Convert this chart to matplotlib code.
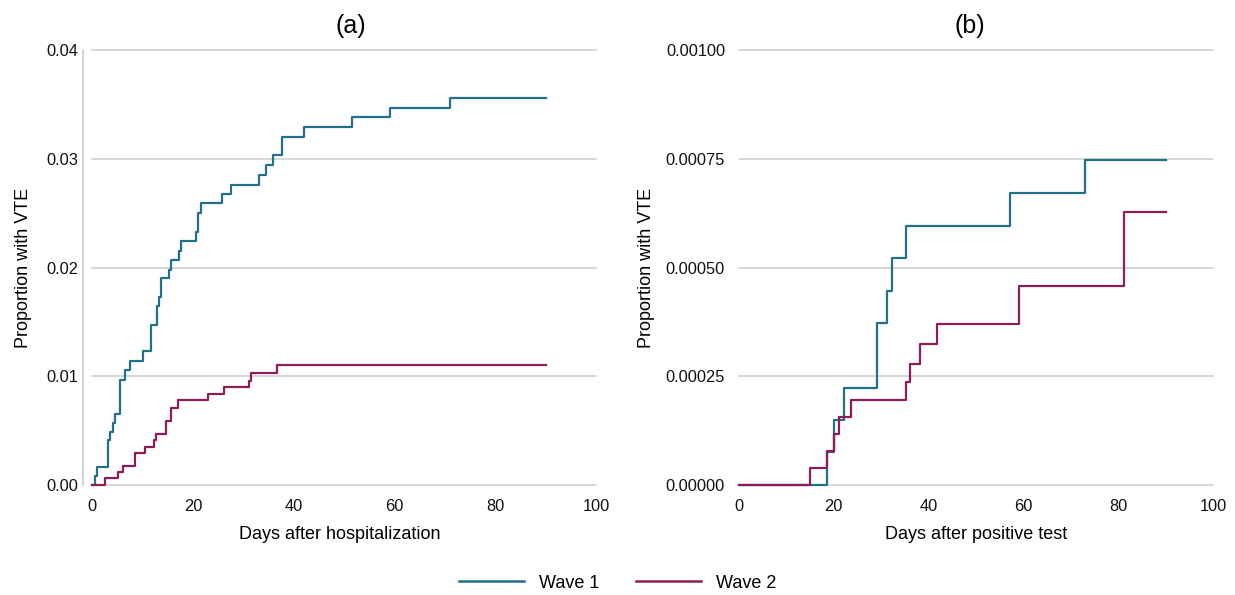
import matplotlib
matplotlib.use("Agg")
import matplotlib.pyplot as plt
from matplotlib.lines import Line2D

plt.rcParams['font.family'] = ['Liberation Sans', 'DejaVu Sans']

# Panel (a): days after hospitalization
a_w1_days = [0, 0.6, 1.05, 3.1, 3.6, 4.1, 4.6, 5.6, 6.6, 7.6, 10.2, 11.6, 12.8, 13.2, 13.6,
             15.2, 15.6, 17.2, 17.6, 20.6, 21.1, 21.6, 25.7, 27.6, 33.1, 34.5, 36.0, 37.6,
             42.1, 51.6, 59.1, 71.0, 90]
a_w1_vals = [0, 0.00086, 0.0017, 0.0041, 0.0049, 0.0057, 0.0065, 0.0097, 0.0106, 0.0114,
             0.0123, 0.0147, 0.0165, 0.0173, 0.0190, 0.0198, 0.0207, 0.0215, 0.0224, 0.0233,
             0.0250, 0.0259, 0.0268, 0.0276, 0.0285, 0.0294, 0.0303, 0.0320, 0.0329, 0.0338,
             0.0347, 0.0356, 0.0356]
a_w2_days = [0, 2.6, 5.1, 6.2, 8.6, 10.6, 12.2, 12.7, 14.7, 15.6, 17.1, 23.1, 26.1, 31.2,
             31.6, 36.6, 90]
a_w2_vals = [0, 0.00064, 0.00117, 0.00175, 0.0029, 0.0035, 0.0041, 0.0047, 0.0059, 0.0071,
             0.0078, 0.0084, 0.0090, 0.0096, 0.0103, 0.0110, 0.0110]

# Panel (b): days after positive test
b_w1_days = [0, 18.6, 20.1, 22.2, 29.1, 31.2, 32.2, 35.2, 57.1, 73.1, 90]
b_w1_vals = [0, 0.000075, 0.000149, 0.000223, 0.000372, 0.000447, 0.000522, 0.000596,
             0.000672, 0.000747, 0.000747]
b_w2_days = [0, 15.0, 18.5, 20.1, 21.1, 23.6, 35.2, 36.1, 38.1, 41.7, 59.1, 81.2, 90]
b_w2_vals = [0, 0.000039, 0.000079, 0.000117, 0.000156, 0.000196, 0.000236, 0.000279,
             0.000323, 0.00037, 0.000457, 0.000628, 0.000628]

a_yticks = [0.00, 0.01, 0.02, 0.03, 0.04]
a_ylabels = ["0.00", "0.01", "0.02", "0.03", "0.04"]
b_yticks = [0.0, 0.00025, 0.0005, 0.00075, 0.001]
b_ylabels = ["0.00000", "0.00025", "0.00050", "0.00075", "0.00100"]
xticks = [0, 20, 40, 60, 80, 100]

C1 = "#22708a"
C2 = "#8c1d58"
GRID = "#cccccc"

fig = plt.figure(figsize=(12.35, 5.95), dpi=100)
W, H = 1235, 595

def make_ax(left_px, right_px):
    return fig.add_axes([left_px / W, (H - 485) / H, (right_px - left_px) / W, (485 - 50) / H])

axa = make_ax(83, 596)
axb = make_ax(739, 1213)

panels = [
    (axa, -1.8, a_yticks, a_ylabels, 0.04, a_w1_days, a_w1_vals, a_w2_days, a_w2_vals,
     "(a)", "Days after hospitalization", 3.5, 10, 0.522),
    (axb, 0, b_yticks, b_ylabels, 0.001, b_w1_days, b_w1_vals, b_w2_days, b_w2_vals,
     "(b)", "Days after positive test", 10, 8, 0.487),
]

for (ax, xmin, yt, yl, ymax, d1, v1, d2, v2, title, xlabel, ypad, ylpad, tx) in panels:
    ax.set_xlim(xmin, 100)
    ax.set_ylim(0, ymax)
    for s in ["top", "right", "bottom", "left"]:
        ax.spines[s].set_visible(False)
    for y in yt:
        ax.plot([0, 100], [y, y], color=GRID, lw=1.1, zorder=1, clip_on=False)
    ax.step(d1, v1, where="post", color=C1, lw=1.6, zorder=3, clip_on=False)
    ax.step(d2, v2, where="post", color=C2, lw=1.6, zorder=3, clip_on=False)
    ax.set_xticks(xticks)
    ax.set_xticklabels([str(t) for t in xticks])
    ax.set_yticks(yt)
    ax.set_yticklabels(yl)
    ax.tick_params(axis="both", length=0, labelsize=11.8, colors="#111111")
    ax.tick_params(axis="x", pad=10)
    ax.tick_params(axis="y", pad=ypad)
    ax.set_title(title, fontsize=18, pad=12, x=tx)
    ax.set_xlabel(xlabel, fontsize=13, labelpad=9)
    ax.set_ylabel("Proportion with VTE", fontsize=13, labelpad=ylpad)

axa.spines["left"].set_visible(True)
axa.spines["left"].set_color("#c8c8c8")
axa.spines["left"].set_linewidth(1.1)

handles = [Line2D([], [], color=C1, lw=1.8), Line2D([], [], color=C2, lw=1.8)]
fig.legend(handles, ["Wave 1", "Wave 2"], loc="center", bbox_to_anchor=(0.5, 1 - 583 / H),
           ncol=2, frameon=False, fontsize=13, handlelength=3.6, columnspacing=2.0,
           handletextpad=0.85)

fig.savefig("out.png", dpi=100, facecolor="white")
